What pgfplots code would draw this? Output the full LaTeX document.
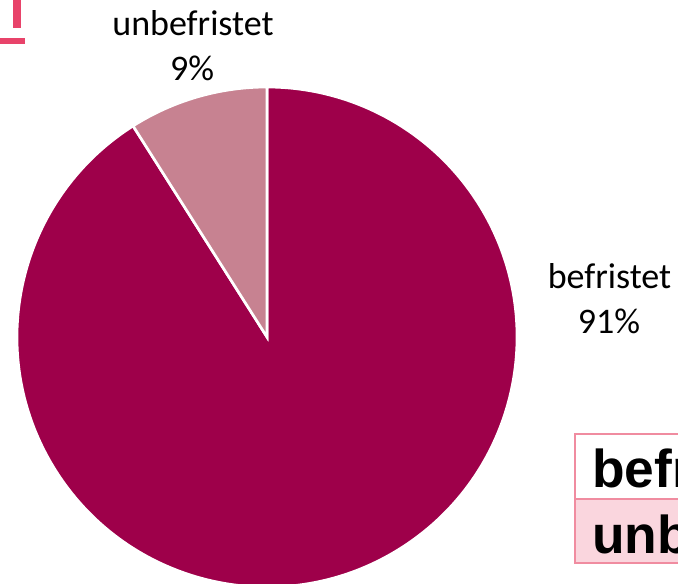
\documentclass[border=0pt]{standalone}
\usepackage{pgfplots}
\usepackage{pgfplotstable}
\pgfplotsset{compat=1.18}
\usepackage{fontspec}
\setmainfont{Carlito}
\newfontfamily\arialfont{Liberation Sans}

\definecolor{darkslice}{RGB}{158,0,74}
\definecolor{lightslice}{RGB}{199,130,145}
\definecolor{markred}{RGB}{232,67,106}
\definecolor{tabborder}{RGB}{240,140,160}
\definecolor{tabfill}{RGB}{250,214,222}

% share of contracts, percent
\pgfplotstableread{
label value
unbefristet 9
befristet 91
}\piedata

\begin{document}
\begin{tikzpicture}
\pgfplotstablegetelem{0}{value}\of\piedata \let\vA\pgfplotsretval
\pgfplotstablegetelem{1}{value}\of\piedata \let\vB\pgfplotsretval
\pgfmathsetmacro\angA{90+3.6*\vA}
\pgfmathsetmacro\angB{\angA+3.6*\vB}
\begin{axis}[
  x=0.75pt, y=0.75pt, y dir=reverse,
  xmin=0, xmax=678, ymin=0, ymax=583,
  hide axis, clip=false,
  at={(0,0)}, anchor=north west,
]
% slices
\fill[darkslice, draw=white, line width=2pt] (axis cs:267,337) -- ++(\angA:187.5pt)
  arc[start angle=\angA, end angle=\angB, radius=187.5pt] -- cycle;
\fill[lightslice, draw=white, line width=2pt] (axis cs:267,337) -- ++(90:187.5pt)
  arc[start angle=90, end angle=\angA, radius=187.5pt] -- cycle;

% labels
\node[anchor=base, font=\fontsize{27}{32}\selectfont] at (axis cs:193,35) {unbefristet};
\node[anchor=base, font=\fontsize{27}{32}\selectfont] at (axis cs:192,80) {\vA\%};
\node[anchor=base, font=\fontsize{27}{32}\selectfont] at (axis cs:609.5,288) {befristet};
\node[anchor=base, font=\fontsize{27}{32}\selectfont] at (axis cs:609,333) {\vB\%};

% red mark top left
\fill[markred] (axis cs:13,0) rectangle (axis cs:21,28);
\fill[markred] (axis cs:0,38) rectangle (axis cs:25,44);

% cut-off table bottom right
\fill[tabfill] (axis cs:575,499) rectangle (axis cs:700,563);
\draw[tabborder, line width=2pt] (axis cs:575,434) rectangle (axis cs:700,563);
\draw[tabborder, line width=2pt] (axis cs:575,499) -- (axis cs:700,499);
\node[anchor=base west, inner sep=0pt, font=\arialfont\bfseries\fontsize{40}{48}\selectfont] at (axis cs:592,487) {befristet};
\node[anchor=base west, inner sep=0pt, font=\arialfont\bfseries\fontsize{40}{48}\selectfont] at (axis cs:592,553) {unbefristet};
\end{axis}
\pgfresetboundingbox
\useasboundingbox (0,0) rectangle (508.5pt,-437.25pt);
\end{tikzpicture}
\end{document}
